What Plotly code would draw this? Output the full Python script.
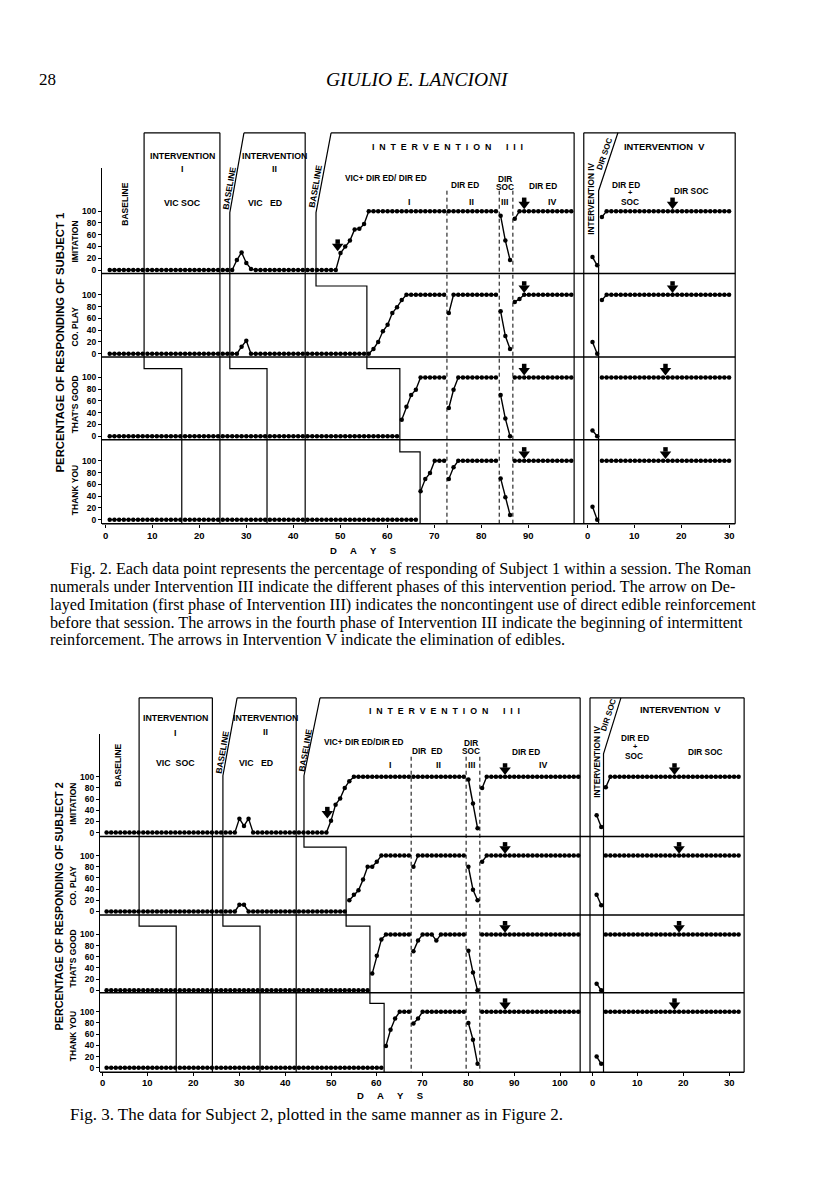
import plotly.graph_objects as go

W, H = 816, 1195
SANS = "Liberation Sans, Arial, Helvetica, sans-serif"
SERIF = "Liberation Serif, Times New Roman, serif"
NB = "\u00a0"

# ===================== DATA =====================
behaviours = ["IMITATION", "CO. PLAY", "THAT'S GOOD", "THANK YOU"]

# ---------- Figure 2 : Subject 1 (days 1-99, baseline .. Intervention III) ----------
s1_days = list(range(1, 100))
s1_imitation = [
    0, 0, 0, 0, 0, 0, 0, 0, 0, 0,
    0, 0, 0, 0, 0, 0, 0, 0, 0, 0,
    0, 0, 0, 0, 0, 0, 0, 17, 30, 12,
    2, 0, 0, 0, 0, 0, 0, 0, 0, 0,
    0, 0, 0, 0, 0, 0, 0, 0, 0, 29,
    40, 50, 69, 70, 78, 100, 100, 100, 100, 100,
    100, 100, 100, 100, 100, 100, 100, 100, 100, 100,
    100, 100, 100, 100, 100, 100, 100, 100, 100, 100,
    100, 100, 100, 92, 50, 17, 87, 100, 100, 100,
    100, 100, 100, 100, 100, 100, 100, 100, 100,
]
s1_coplay = [
    0, 0, 0, 0, 0, 0, 0, 0, 0, 0,
    0, 0, 0, 0, 0, 0, 0, 0, 0, 0,
    0, 0, 0, 0, 0, 0, 0, 0, 12, 22,
    0, 0, 0, 0, 0, 0, 0, 0, 0, 0,
    0, 0, 0, 0, 0, 0, 0, 0, 0, 0,
    0, 0, 0, 0, 0, 0, 8, 20, 38, 49,
    69, 79, 91, 100, 100, 100, 100, 100, 100, 100,
    100, 100, 69, 100, 100, 100, 100, 100, 100, 100,
    100, 100, 100, 72, 30, 8, 88, 93, 100, 100,
    100, 100, 100, 100, 100, 100, 100, 100, 100,
]
s1_thatsgood = [
    0, 0, 0, 0, 0, 0, 0, 0, 0, 0,
    0, 0, 0, 0, 0, 0, 0, 0, 0, 0,
    0, 0, 0, 0, 0, 0, 0, 0, 0, 0,
    0, 0, 0, 0, 0, 0, 0, 0, 0, 0,
    0, 0, 0, 0, 0, 0, 0, 0, 0, 0,
    0, 0, 0, 0, 0, 0, 0, 0, 0, 0,
    0, 0, 28, 50, 70, 79, 100, 100, 100, 100,
    100, 100, 48, 79, 100, 100, 100, 100, 100, 100,
    100, 100, 100, 70, 30, 0, 100, 100, 100, 100,
    100, 100, 100, 100, 100, 100, 100, 100, 100,
]
s1_thankyou = [
    0, 0, 0, 0, 0, 0, 0, 0, 0, 0,
    0, 0, 0, 0, 0, 0, 0, 0, 0, 0,
    0, 0, 0, 0, 0, 0, 0, 0, 0, 0,
    0, 0, 0, 0, 0, 0, 0, 0, 0, 0,
    0, 0, 0, 0, 0, 0, 0, 0, 0, 0,
    0, 0, 0, 0, 0, 0, 0, 0, 0, 0,
    0, 0, 0, 0, 0, 0, 48, 69, 79, 100,
    100, 100, 69, 89, 100, 100, 100, 100, 100, 100,
    100, 100, 100, 70, 38, 8, 100, 100, 100, 100,
    100, 100, 100, 100, 100, 100, 100, 100, 100,
]
# follow-up block (day count restarts at 0): Intervention IV then V
s1_iv_days = [1, 2]
s1_iv_imitation = [22, 8]
s1_iv_coplay = [20, 0]
s1_iv_thatsgood = [10, 0]
s1_iv_thankyou = [22, 0]
s1_v_days = list(range(3, 31))
s1_v_imitation = [90, 100, 100, 100, 100, 100, 100, 100, 100, 100,
                  100, 100, 100, 100, 100, 100, 100, 100, 100, 100,
                  100, 100, 100, 100, 100, 100, 100, 100]
s1_v_coplay = [91, 100, 100, 100, 100, 100, 100, 100, 100, 100,
               100, 100, 100, 100, 100, 100, 100, 100, 100, 100,
               100, 100, 100, 100, 100, 100, 100, 100]
s1_v_thatsgood = [100, 100, 100, 100, 100, 100, 100, 100, 100, 100,
                  100, 100, 100, 100, 100, 100, 100, 100, 100, 100,
                  100, 100, 100, 100, 100, 100, 100, 100]
s1_v_thankyou = [100, 100, 100, 100, 100, 100, 100, 100, 100, 100,
                 100, 100, 100, 100, 100, 100, 100, 100, 100, 100,
                 100, 100, 100, 100, 100, 100, 100, 100]
# phase-change days (per behaviour where staggered)
s1_int1_start = [8.3, 8.3, 16.3, 16.3]
s1_int1_end = 24.4
s1_int2_start = [26.5, 26.5, 34.4, 34.4]
s1_int2_end = 42.5
s1_int3_start = [44.8, 55.6, 62.6, 66.9]
s1_int3_phase_lines = [72.6, 83.7, 86.6]
s1_int3_end = 99.6
s1_fu_start = -0.85
s1_int5_start = 2.3
s1_fu_end = 31.3
# arrows: panel, day, level pointed at, block (L = days axis, R = follow-up axis)
s1_arrow_panel = [0, 0, 1, 2, 3, 0, 1, 2, 3]
s1_arrow_day = [49.4, 89, 89, 89, 89, 18, 18, 16.5, 16.5]
s1_arrow_tip = [33, 104, 104, 104, 104, 104, 104, 104, 104]
s1_arrow_block = ["L", "L", "L", "L", "L", "R", "R", "R", "R"]
s1_xticks_left = [0, 10, 20, 30, 40, 50, 60, 70, 80, 90]

# ---------- Figure 3 : Subject 2 (days 1-104) ----------
s2_days = list(range(1, 105))
s2_imitation = [
    0, 0, 0, 0, 0, 0, 0, 0, 0, 0,
    0, 0, 0, 0, 0, 0, 0, 0, 0, 0,
    0, 0, 0, 0, 0, 0, 0, 0, 0, 25,
    12, 25, 0, 0, 0, 0, 0, 0, 0, 0,
    0, 0, 0, 0, 0, 0, 0, 0, 0, 21,
    50, 61, 80, 92, 100, 100, 100, 100, 100, 100,
    100, 100, 100, 100, 100, 100, 100, 100, 100, 100,
    100, 100, 100, 100, 100, 100, 100, 100, 100, 95,
    52, 8, 80, 100, 100, 100, 100, 100, 100, 100,
    100, 100, 100, 100, 100, 100, 100, 100, 100, 100,
    100, 100, 100, 100,
]
s2_coplay = [
    0, 0, 0, 0, 0, 0, 0, 0, 0, 0,
    0, 0, 0, 0, 0, 0, 0, 0, 0, 0,
    0, 0, 0, 0, 0, 0, 0, 0, 0, 12,
    12, 0, 0, 0, 0, 0, 0, 0, 0, 0,
    0, 0, 0, 0, 0, 0, 0, 0, 0, 0,
    0, 0, 0, 20, 30, 38, 57, 80, 80, 89,
    100, 100, 100, 100, 100, 100, 100, 80, 100, 100,
    100, 100, 100, 100, 100, 100, 100, 100, 100, 80,
    39, 20, 89, 100, 100, 100, 100, 100, 100, 100,
    100, 100, 100, 100, 100, 100, 100, 100, 100, 100,
    100, 100, 100, 100,
]
s2_thatsgood = [
    0, 0, 0, 0, 0, 0, 0, 0, 0, 0,
    0, 0, 0, 0, 0, 0, 0, 0, 0, 0,
    0, 0, 0, 0, 0, 0, 0, 0, 0, 0,
    0, 0, 0, 0, 0, 0, 0, 0, 0, 0,
    0, 0, 0, 0, 0, 0, 0, 0, 0, 0,
    0, 0, 0, 0, 0, 0, 0, 0, 30, 62,
    91, 100, 100, 100, 100, 100, 100, 70, 89, 100,
    100, 100, 89, 100, 100, 100, 100, 100, 100, 71,
    32, 0, 100, 100, 100, 100, 100, 100, 100, 100,
    100, 100, 100, 100, 100, 100, 100, 100, 100, 100,
    100, 100, 100, 100,
]
s2_thankyou = [
    0, 0, 0, 0, 0, 0, 0, 0, 0, 0,
    0, 0, 0, 0, 0, 0, 0, 0, 0, 0,
    0, 0, 0, 0, 0, 0, 0, 0, 0, 0,
    0, 0, 0, 0, 0, 0, 0, 0, 0, 0,
    0, 0, 0, 0, 0, 0, 0, 0, 0, 0,
    0, 0, 0, 0, 0, 0, 0, 0, 0, 0,
    0, 39, 68, 88, 100, 100, 100, 79, 88, 100,
    100, 100, 100, 100, 100, 100, 100, 100, 100, 80,
    50, 7, 100, 100, 100, 100, 100, 100, 100, 100,
    100, 100, 100, 100, 100, 100, 100, 100, 100, 100,
    100, 100, 100, 100,
]
s2_iv_days = [1, 2]
s2_iv_imitation = [31, 10]
s2_iv_coplay = [30, 11]
s2_iv_thatsgood = [12, 0]
s2_iv_thankyou = [20, 7]
s2_v_days = list(range(3, 33))
s2_v_imitation = [81, 100, 100, 100, 100, 100, 100, 100, 100, 100,
                  100, 100, 100, 100, 100, 100, 100, 100, 100, 100,
                  100, 100, 100, 100, 100, 100, 100, 100, 100, 100]
s2_v_coplay = [100, 100, 100, 100, 100, 100, 100, 100, 100, 100,
               100, 100, 100, 100, 100, 100, 100, 100, 100, 100,
               100, 100, 100, 100, 100, 100, 100, 100, 100, 100]
s2_v_thatsgood = [100, 100, 100, 100, 100, 100, 100, 100, 100, 100,
                  100, 100, 100, 100, 100, 100, 100, 100, 100, 100,
                  100, 100, 100, 100, 100, 100, 100, 100, 100, 100]
s2_v_thankyou = [100, 100, 100, 100, 100, 100, 100, 100, 100, 100,
                 100, 100, 100, 100, 100, 100, 100, 100, 100, 100,
                 100, 100, 100, 100, 100, 100, 100, 100, 100, 100]
s2_int1_start = [8.1, 8.1, 16.2, 16.2]
s2_int1_end = 24.1
s2_int2_start = [26.4, 26.4, 34.5, 34.5]
s2_int2_end = 42.4
s2_int3_start = [44.1, 53.3, 58.5, 61.6]
s2_int3_phase_lines = [67.5, 79.5, 82.5]
s2_int3_end = 104.4
s2_fu_start = -0.45
s2_int5_start = 2.5
s2_fu_end = 33.2
s2_arrow_panel = [0, 0, 1, 2, 3, 0, 1, 2, 3]
s2_arrow_day = [49.2, 88, 88, 88, 88, 18, 19, 19, 18]
s2_arrow_tip = [26, 104, 104, 104, 104, 104, 104, 104, 104]
s2_arrow_block = ["L", "L", "L", "L", "L", "R", "R", "R", "R"]
s2_xticks_left = [0, 10, 20, 30, 40, 50, 60, 70, 80, 90, 100]

xticks_right = [0, 10, 20, 30]

# ===================== LAYOUT GEOMETRY (pixels on the page) =====================
G1 = dict(day0_px=97, ppd=4.71, left_px=94, right_px=732,
          zero=[262.5, 346.3, 429.0, 512.5], sep=[266, 349.5, 432.5, 516.5],
          ppu=0.59, axis_top=160, box_top=125, slant_px=205, fu_slant_px=183,
          dash_top=183, offset=102.5, int2_slant_day=29.5, int3_slant_day=48.0,
          int5_slant_day=6.4, ticklab_px=528)
G2 = dict(day0_px=94, ppd=4.58, left_px=92, right_px=740,
          zero=[826, 905, 984, 1061.5], sep=[830, 908.5, 986.5, 1066],
          ppu=0.56, axis_top=727, box_top=691, slant_px=769, fu_slant_px=747,
          dash_top=750, offset=107, int2_slant_day=29.5, int3_slant_day=47.6,
          int5_slant_day=6.3, ticklab_px=1076)

STEP_LEVEL = 115  # height (in % units of lower panel) where staircase lines step


def py(p):
    return 1 - p / H


def spaced(word, gap=2):
    return (NB * gap).join(list(word))


def label(text, px, pyy, size=8, angle=0, family=SANS, weight="bold",
          xanchor="center", style="normal"):
    return dict(text=text, x=px / W, y=py(pyy), xref="paper", yref="paper",
                showarrow=False, textangle=angle, xanchor=xanchor, yanchor="middle",
                font=dict(family=family, size=size, color="black", weight=weight,
                          style=style))


fig = go.Figure()
layout = {}
shapes = []
annotations = []

LINE = dict(color="black", width=1.2)


def with_breaks(xs, ys, bounds):
    ox, oy = [], []
    for i, (x, y) in enumerate(zip(xs, ys)):
        if i > 0 and any(xs[i - 1] < b < x for b in bounds):
            ox.append(None)
            oy.append(None)
        ox.append(x)
        oy.append(y)
    return ox, oy


def add_subject(idx, G, S):
    xa = "x" if idx == 0 else "x2"
    xkey = "xaxis" if idx == 0 else "xaxis2"
    nums = [1 + 4 * idx + k for k in range(4)]
    yas = ["y" if n == 1 else f"y{n}" for n in nums]
    ykeys = ["yaxis" if n == 1 else f"yaxis{n}" for n in nums]
    off = G["offset"]
    ppu = G["ppu"]
    xmin = (G["left_px"] - G["day0_px"]) / G["ppd"]
    xmax = (G["right_px"] - G["day0_px"]) / G["ppd"]

    tickvals = list(S["xticks_left"]) + [off + t for t in xticks_right]
    ticktext = [str(t) for t in S["xticks_left"]] + [str(t) for t in xticks_right]
    layout[xkey] = dict(domain=[G["left_px"] / W, G["right_px"] / W], range=[xmin, xmax],
                        anchor=yas[3], showline=False, showgrid=False, zeroline=False,
                        tickvals=tickvals, showticklabels=False, ticks="outside",
                        ticklen=3, tickwidth=1.2, tickcolor="black")
    # tick labels positioned through the x axis scale
    for v, t in zip(tickvals, ticktext):
        annotations.append(dict(text=t, x=v, xref=xa, y=py(G["ticklab_px"]), yref="paper",
                                showarrow=False, xanchor="center", yanchor="middle",
                                font=dict(family=SANS, size=9.5, color="black",
                                          weight="bold")))
    for k in range(4):
        top = G["axis_top"] if k == 0 else G["sep"][k - 1]
        bot = G["sep"][k]
        z = G["zero"][k]
        layout[ykeys[k]] = dict(domain=[py(bot), py(top)],
                                range=[(z - bot) / ppu, (z - top) / ppu],
                                anchor=xa, showline=True, linecolor="black", linewidth=1.3,
                                showgrid=False, zeroline=False,
                                tickvals=[0, 20, 40, 60, 80, 100], ticks="outside",
                                ticklen=3, tickwidth=1.2, tickcolor="black",
                                tickfont=dict(family=SANS, size=8.5, color="black",
                                              weight="bold"))

    # ---- data traces ----
    for k in range(4):
        bounds = [S["int1_start"][k], S["int1_end"], S["int2_start"][k], S["int2_end"],
                  S["int3_start"][k]] + list(S["phase_lines"])
        bx, by = with_breaks(S["days"], S["left"][k], bounds)
        segs = [(bx, by),
                ([off + d for d in S["iv_days"]], S["iv"][k]),
                ([off + d for d in S["v_days"]], S["v"][k])]
        for sx, sy in segs:
            fig.add_trace(go.Scatter(x=sx, y=sy, xaxis=xa, yaxis=yas[k],
                                     mode="lines+markers",
                                     line=dict(color="black", width=1.4),
                                     marker=dict(size=4.5, color="black"),
                                     cliponaxis=False, hoverinfo="skip",
                                     showlegend=False))

    # ---- arrows ----
    for p, d, tip, blk in zip(S["arrow_panel"], S["arrow_day"], S["arrow_tip"],
                              S["arrow_block"]):
        x = d + (off if blk == "R" else 0)
        fig.add_trace(go.Scatter(x=[x], y=[tip + 4.5 / ppu], xaxis=xa, yaxis=yas[p],
                                 mode="markers", cliponaxis=False, hoverinfo="skip",
                                 marker=dict(symbol="triangle-down", size=10, color="black"),
                                 showlegend=False))
        fig.add_trace(go.Scatter(x=[x], y=[tip + 9.0 / ppu], xaxis=xa, yaxis=yas[p],
                                 mode="markers", cliponaxis=False, hoverinfo="skip",
                                 marker=dict(symbol="square", size=4.5, color="black"),
                                 showlegend=False))

    # ---- staircase phase-change lines ----
    def stair(starts, slant_day=None, slant_px=None):
        pts = []
        if slant_day is None:
            pts.append((starts[0], G["box_top"]))
        else:
            pts.append((slant_day, G["box_top"]))
            pts.append((starts[0], slant_px))
        for k in range(1, 4):
            if starts[k] != starts[k - 1]:
                step = G["zero"][k] - STEP_LEVEL * ppu
                pts.append((starts[k - 1], step))
                pts.append((starts[k], step))
        pts.append((starts[3], G["sep"][3]))
        path = "M " + " L ".join(f"{x:.3f},{py(y):.5f}" for x, y in pts)
        shapes.append(dict(type="path", xref=xa, yref="paper", path=path,
                           line=LINE, fillcolor="rgba(0,0,0,0)"))

    stair(S["int1_start"])
    stair([S["int1_end"]] * 4)
    stair(S["int2_start"], G["int2_slant_day"], G["slant_px"])
    stair([S["int2_end"]] * 4)
    stair(S["int3_start"], G["int3_slant_day"], G["slant_px"])
    stair([S["int3_end"]] * 4)
    stair([off + S["fu_start"]] * 4)
    stair([off + S["int5_start"]] * 4, off + G["int5_slant_day"], G["fu_slant_px"])
    stair([off + S["fu_end"]] * 4)

    # box tops
    for a, b in [(S["int1_start"][0], S["int1_end"]),
                 (G["int2_slant_day"], S["int2_end"]),
                 (G["int3_slant_day"], S["int3_end"]),
                 (off + S["fu_start"], off + S["fu_end"])]:
        shapes.append(dict(type="line", xref=xa, yref="paper", x0=a, x1=b,
                           y0=py(G["box_top"]), y1=py(G["box_top"]), line=LINE))
    # dashed phase lines within Intervention III
    for d in S["phase_lines"]:
        shapes.append(dict(type="line", xref=xa, yref="paper", x0=d, x1=d,
                           y0=py(G["dash_top"]), y1=py(G["sep"][3]),
                           line=dict(color="black", width=1, dash="4px,3px")))
    # panel separators and bottom axis line
    for k in range(4):
        shapes.append(dict(type="line", xref=xa, yref="paper", x0=xmin,
                           x1=off + S["fu_end"], y0=py(G["sep"][k]), y1=py(G["sep"][k]),
                           line=dict(color="black", width=1.5)))


S1 = dict(days=s1_days, left=[s1_imitation, s1_coplay, s1_thatsgood, s1_thankyou],
          iv_days=s1_iv_days,
          iv=[s1_iv_imitation, s1_iv_coplay, s1_iv_thatsgood, s1_iv_thankyou],
          v_days=s1_v_days, v=[s1_v_imitation, s1_v_coplay, s1_v_thatsgood, s1_v_thankyou],
          int1_start=s1_int1_start, int1_end=s1_int1_end, int2_start=s1_int2_start,
          int2_end=s1_int2_end, int3_start=s1_int3_start, phase_lines=s1_int3_phase_lines,
          int3_end=s1_int3_end, fu_start=s1_fu_start, int5_start=s1_int5_start,
          fu_end=s1_fu_end, arrow_panel=s1_arrow_panel, arrow_day=s1_arrow_day,
          arrow_tip=s1_arrow_tip, arrow_block=s1_arrow_block, xticks_left=s1_xticks_left)
S2 = dict(days=s2_days, left=[s2_imitation, s2_coplay, s2_thatsgood, s2_thankyou],
          iv_days=s2_iv_days,
          iv=[s2_iv_imitation, s2_iv_coplay, s2_iv_thatsgood, s2_iv_thankyou],
          v_days=s2_v_days, v=[s2_v_imitation, s2_v_coplay, s2_v_thatsgood, s2_v_thankyou],
          int1_start=s2_int1_start, int1_end=s2_int1_end, int2_start=s2_int2_start,
          int2_end=s2_int2_end, int3_start=s2_int3_start, phase_lines=s2_int3_phase_lines,
          int3_end=s2_int3_end, fu_start=s2_fu_start, int5_start=s2_int5_start,
          fu_end=s2_fu_end, arrow_panel=s2_arrow_panel, arrow_day=s2_arrow_day,
          arrow_tip=s2_arrow_tip, arrow_block=s2_arrow_block, xticks_left=s2_xticks_left)

add_subject(0, G1, S1)
add_subject(1, G2, S2)

# ===================== TEXT =====================
INT3 = spaced("INTERVENTION") + NB * 6 + spaced("III")
DAYS = (NB * 5).join(list("DAYS"))

# page header
annotations.append(label("28", 29, 72, size=17, family=SERIF, weight="normal", xanchor="left"))
annotations.append(label("GIULIO E. LANCIONI", 409, 72, size=19.5, family=SERIF,
                         weight="normal", style="italic"))

# Figure 2 labels
fig2_text = [
    ("BASELINE", 117, 196, -90, 8.5),
    ("INTERVENTION", 174, 148, 0, 8.8),
    ("I", 174, 161, 0, 8.8),
    ("VIC SOC", 174, 195, 0, 8.8),
    ("BASELINE", 221, 180, -80, 8.5),
    ("INTERVENTION", 266, 148, 0, 8.8),
    ("II", 266, 161, 0, 8.8),
    ("VIC" + NB * 3 + "ED", 257, 195, 0, 8.8),
    ("BASELINE", 307, 179, -80, 8.5),
    ("VIC+ DIR ED/ DIR ED", 378, 170, 0, 8.3),
    (INT3, 439, 139, 0, 8.8),
    ("DIR ED", 457, 177, 0, 8.3),
    ("DIR", 497, 171, 0, 8.3),
    ("SOC", 497, 179, 0, 8.3),
    ("DIR ED", 535, 178, 0, 8.3),
    ("I", 401, 194, 0, 8.8),
    ("II", 463, 194, 0, 8.8),
    ("III", 497, 194, 0, 8.8),
    ("IV", 544, 194, 0, 8.8),
    ("INTERVENTION IV", 583, 191, -90, 8.3),
    ("DIR SOC", 597, 146, -71, 8.0),
    ("INTERVENTION" + NB * 2 + "V", 656, 139, 0, 9.3),
    ("DIR ED", 618, 177, 0, 8.3),
    ("+", 622, 185, 0, 7.5),
    ("SOC", 622, 194, 0, 8.3),
    ("DIR SOC", 683, 183, 0, 8.3),
    (behaviours[0], 67, 234, -90, 8.5),
    (behaviours[1], 67, 319, -90, 8.5),
    (behaviours[2], 67, 397, -90, 8.5),
    (behaviours[3], 67, 483, -90, 8.5),
    ("PERCENTAGE OF RESPONDING OF SUBJECT 1", 52, 335, -90, 11.3),
    (DAYS, 355, 543, 0, 9.5),
]
fig3_text = [
    ("BASELINE", 110, 759, -90, 8.5),
    ("INTERVENTION", 167, 711, 0, 8.8),
    ("I", 167, 726, 0, 8.8),
    ("VIC" + NB * 2 + "SOC", 167, 756, 0, 8.8),
    ("BASELINE", 214, 746, -80, 8.5),
    ("INTERVENTION", 257, 711, 0, 8.8),
    ("II", 257, 725, 0, 8.8),
    ("VIC" + NB * 3 + "ED", 248, 756, 0, 8.8),
    ("BASELINE", 297, 744, -80, 8.5),
    ("VIC+ DIR ED/DIR ED", 356, 735, 0, 8.3),
    (INT3, 436, 704, 0, 8.8),
    ("DIR" + NB * 2 + "ED", 419, 744, 0, 8.3),
    ("DIR", 463, 736, 0, 8.3),
    ("SOC", 463, 744, 0, 8.3),
    ("DIR ED", 518, 745, 0, 8.3),
    ("I", 382, 758, 0, 8.8),
    ("II", 430, 758, 0, 8.8),
    ("III", 463, 758, 0, 8.8),
    ("IV", 535, 758, 0, 8.8),
    ("INTERVENTION IV", 589, 755, -90, 8.3),
    ("DIR SOC", 601, 708, -72, 8.0),
    ("INTERVENTION" + NB * 2 + "V", 672, 703, 0, 9.3),
    ("DIR ED", 627, 731, 0, 8.3),
    ("+", 627, 740, 0, 7.5),
    ("SOC", 626, 749, 0, 8.3),
    ("DIR SOC", 697, 745, 0, 8.3),
    (behaviours[0], 65, 797, -90, 8.5),
    (behaviours[1], 65, 879, -90, 8.5),
    (behaviours[2], 65, 952, -90, 8.5),
    (behaviours[3], 65, 1030, -90, 8.5),
    ("PERCENTAGE OF RESPONDING OF SUBJECT 2", 51, 900, -90, 10.8),
    (DAYS, 382, 1089, 0, 9.5),
]
for t, x, y, a, s in fig2_text + fig3_text:
    annotations.append(label(t, x, y, size=s, angle=a))

cap2 = [
    "Fig. 2. Each data point represents the percentage of responding of Subject 1 within a session. The Roman",
    "numerals under Intervention III indicate the different phases of this intervention period. The arrow on De-",
    "layed Imitation (first phase of Intervention III) indicates the noncontingent use of direct edible reinforcement",
    "before that session. The arrows in the fourth phase of Intervention III indicate the beginning of intermittent",
    "reinforcement. The arrows in Intervention V indicate the elimination of edibles.",
]
cap_y = [562, 580, 598, 616, 633]
cap_x = [60, 40, 40, 40, 40]
for t, x, y in zip(cap2, cap_x, cap_y):
    annotations.append(label(t, x, y, size=16.2, family=SERIF, weight="normal", xanchor="left"))
annotations.append(label("Fig. 3. The data for Subject 2, plotted in the same manner as in Figure 2.",
                         60, 1108, size=17, family=SERIF, weight="normal", xanchor="left"))

fig.update_layout(width=W, height=H, margin=dict(l=0, r=0, t=0, b=0),
                  paper_bgcolor="white", plot_bgcolor="rgba(0,0,0,0)",
                  showlegend=False, hovermode=False,
                  shapes=shapes, annotations=annotations, **layout)

fig.write_html("out.html", config={"displayModeBar": False})
